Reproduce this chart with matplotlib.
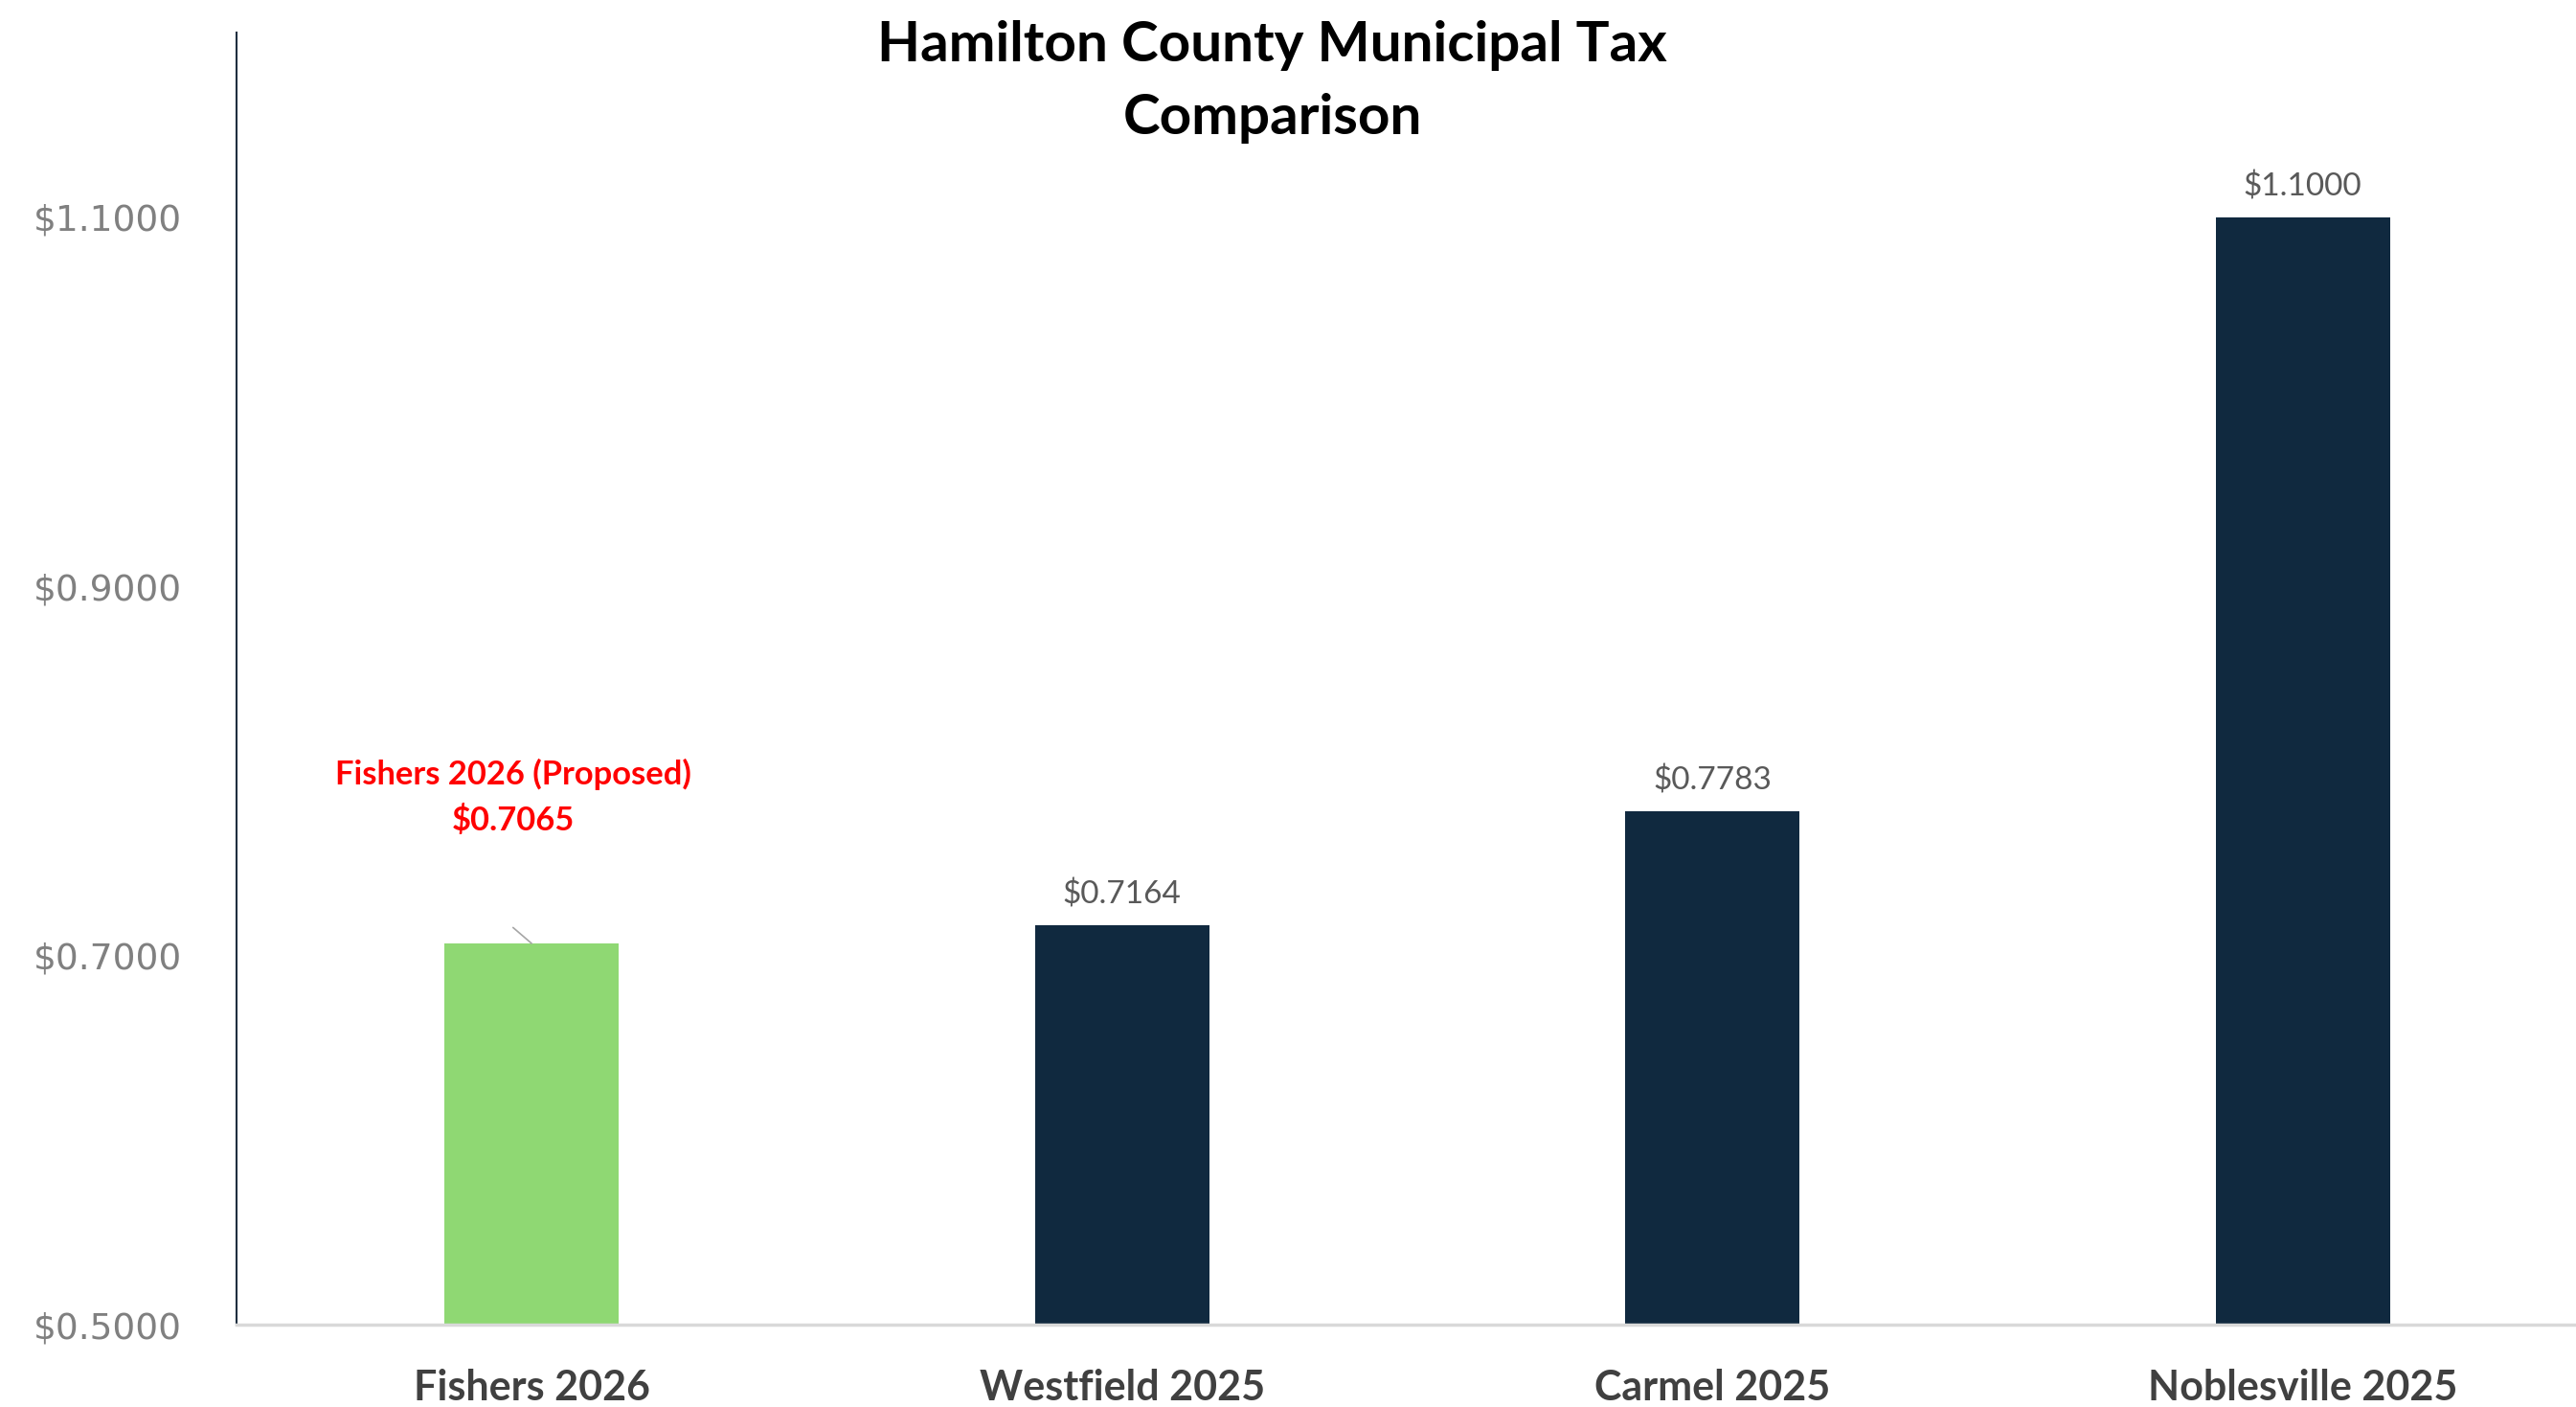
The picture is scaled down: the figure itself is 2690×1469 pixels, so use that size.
import matplotlib
matplotlib.use("Agg")
import matplotlib.pyplot as plt
from matplotlib.ticker import FuncFormatter

# data
cities = ["Fishers 2026", "Westfield 2025", "Carmel 2025", "Noblesville 2025"]
rates = [0.7065, 0.7164, 0.7783, 1.1000]
bar_colors = ["#8FD873", "#10293F", "#10293F", "#10293F"]
y_ticks = [0.5, 0.7, 0.9, 1.1]
highlight_label = "Fishers 2026 (Proposed)"

fig = plt.figure(figsize=(26.9, 14.69), dpi=100)
# plot area runs a bit past the right edge, like the original export
ax = fig.add_axes([0.0918, 0.0585, 0.9167, 0.9184])

x = range(len(cities))
ax.bar(x, rates, width=0.295, color=bar_colors, zorder=2)

ax.set_xlim(-0.5, len(cities) - 0.5)
ax.set_ylim(0.5, 1.2)
ax.set_yticks(y_ticks)
ax.yaxis.set_major_formatter(FuncFormatter(lambda v, _: f"${v:.4f}"))
ax.tick_params(axis="y", length=0, pad=41, labelsize=27, labelcolor="#808080")
ax.set_xticks(list(x))
ax.set_xticklabels(cities, fontfamily="Lato", fontweight="bold",
                   fontsize=31, color="#404040")
ax.tick_params(axis="x", length=0, pad=33)

for side in ["top", "right"]:
    ax.spines[side].set_visible(False)
ax.spines["left"].set_color("#1F2F40")
ax.spines["left"].set_linewidth(1.5)
ax.spines["bottom"].set_color("#D9D9D9")
ax.spines["bottom"].set_linewidth(2.5)

# value labels (skip the highlighted one, it gets a callout)
for i, v in enumerate(rates):
    if i == 0:
        continue
    ax.annotate(f"${v:.4f}", xy=(i, v), xytext=(0, 12),
                textcoords="offset points", ha="center", va="bottom",
                fontfamily="Lato", fontsize=24, color="#595959")

# callout for Fishers
ax.annotate(f"{highlight_label}\n${rates[0]:.4f}", xy=(0, rates[0]),
            xytext=(-14, 110), textcoords="offset points",
            ha="center", va="center", linespacing=1.55,
            fontfamily="Lato", fontweight="bold", fontsize=24.8, color="red")
ax.annotate("", xy=(0, rates[0]), xytext=(-14, 12),
            textcoords="offset points",
            arrowprops=dict(arrowstyle="-", color="#A6A6A6", lw=1.2,
                            shrinkA=0, shrinkB=0))

fig.text(0.494, 0.986, "Hamilton County Municipal Tax\nComparison",
         ha="center", va="top", fontfamily="Lato", fontweight="bold",
         fontsize=42, linespacing=1.55, color="black")

fig.savefig("out.png", dpi=100)
